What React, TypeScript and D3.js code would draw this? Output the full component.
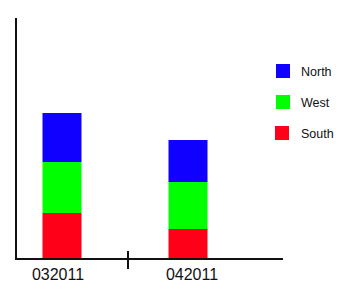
import React from "react";
import * as d3 from "d3";

const categories = ["032011", "042011"];
const seriesNames = ["South", "West", "North"];
const southValues = [45, 29];
const westValues = [51, 47];
const northValues = [49, 42];
const colors = ["#ff0019", "#00ff00", "#0f00ff"];
const legendOrder = ["North", "West", "South"];

const W = 343;
const H = 289;

export default function App() {
  const rows = categories.map((c, i) => ({
    cat: c,
    South: southValues[i],
    West: westValues[i],
    North: northValues[i],
  }));
  const stack = d3.stack<any>().keys(seriesNames);
  const series = stack(rows);

  const y = d3.scaleLinear().domain([0, 240]).range([258, 18]);
  const x = d3.scalePoint<string>().domain(categories).range([60, 190]);
  const color = d3.scaleOrdinal<string, string>().domain(seriesNames).range(colors);
  const barW = 39;
  const tickX = ((x(categories[0]) as number) + (x(categories[1]) as number)) / 2 + 3;

  return (
    <svg width={W} height={H} style={{ position: "absolute", left: 0, top: 0 }}>
      <rect x={0} y={0} width={W} height={H} fill="#fff" />
      {series.map((s) => (
        <g key={s.key} fill={color(s.key)}>
          {s.map((d, i) => (
            <rect
              key={i}
              x={(x(categories[i]) as number) - barW / 2 + (i === 0 ? 2 : -2)}
              y={y(d[1])}
              width={barW}
              height={y(d[0]) - y(d[1])}
            />
          ))}
        </g>
      ))}
      <line x1={16} x2={16} y1={18} y2={260} stroke="#111" strokeWidth={2} />
      <line x1={15} x2={283} y1={259} y2={259} stroke="#111" strokeWidth={2} />
      <line x1={tickX} x2={tickX} y1={251} y2={269} stroke="#111" strokeWidth={2} />
      {categories.map((c, i) => (
        <text
          key={c}
          x={(x(c) as number) + (i === 0 ? -2 : 2)}
          y={280}
          textAnchor="middle"
          fontFamily="Liberation Sans, Arial, sans-serif"
          fontSize={16}
          fill="#111"
        >
          {c}
        </text>
      ))}
      {legendOrder.map((name, i) => (
        <g key={name} transform={`translate(276, ${64 + i * 31})`}>
          <rect x={-1 * (i === 2 ? 1 : 0)} y={0} width={14} height={14} fill={color(name)} />
          <text
            x={25}
            y={11.5}
            fontFamily="Liberation Sans, Arial, sans-serif"
            fontSize={12.5}
            fill="#111"
          >
            {name}
          </text>
        </g>
      ))}
    </svg>
  );
}
